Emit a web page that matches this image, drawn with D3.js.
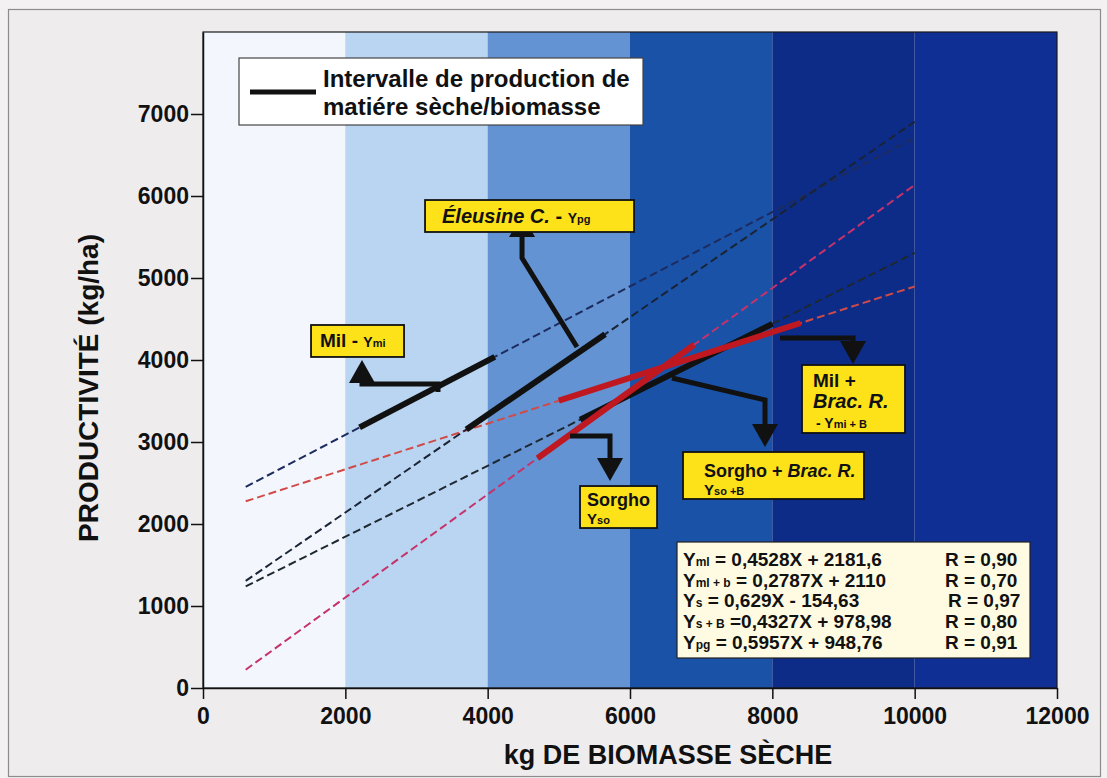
<!DOCTYPE html>
<html>
<head>
<meta charset="utf-8">
<script src="https://cdn.jsdelivr.net/npm/d3@7"></script>
<style>
  body { margin: 0; background: #f3f1f1; }
  svg text { font-family: "Liberation Sans", Arial, sans-serif; font-weight: bold; fill: #111; }
</style>
</head>
<body>
<svg width="1107" height="778"></svg>
<script>
// x bands (kg de biomasse) and their colours
const bandEdges = [0, 2000, 4000, 6000, 8000, 10000, 12000];
const bandColors = ["#f3f7fd", "#bad5f1", "#6393d3", "#1a52a8", "#0c2c88", "#102f94"];

const xTicks = [0, 2000, 4000, 6000, 8000, 10000, 12000];
const yTicks = [0, 1000, 2000, 3000, 4000, 5000, 6000, 7000];

// regression lines: [start], [end] in (kg, kg/ha)
const seriesNames = ["Ymi", "Ymi+b", "Ys", "Ys+B", "Ypg"];
const trendStart = [[600, 2453], [600, 2277], [600, 223], [600, 1239], [600, 1306]];
const trendEnd = [[10000, 6710], [10000, 4897], [10000, 6135], [10000, 5306], [10000, 6906]];
const trendColors = ["#1d2b5e", "#d04a48", "#c6336b", "#1e2830", "#1a2436"];

// production interval (solid part)
const intervalStart = [[2200, 3178], [5000, 3504], [4700, 2802], [5300, 3272], [3700, 3153]];
const intervalEnd = [[4100, 4038], [8400, 4451], [6900, 4186], [8000, 4441], [5650, 4314]];
const intervalColors = ["#111", "#c01820", "#c01820", "#111", "#111"];
const drawOrder = [0, 4, 3, 2, 1];

// equations box
const eqLeft = [["Y", "ml", " = 0,4528X + 2181,6"], ["Y", "ml + b", " = 0,2787X + 2110"], ["Y", "s", " = 0,629X - 154,63"], ["Y", "s + B", " =0,4327X + 978,98"], ["Y", "pg", " = 0,5957X + 948,76"]];
const eqRight = ["R = 0,90", "R = 0,70", "R = 0,97", "R = 0,80", "R = 0,91"];

// annotation boxes: [x0, y0, x1, y1] in data units, arrow path in data units (last = tip)
const labelBoxes = [
  [1518, 4427, 2825, 4037],
  [3120, 5951, 6057, 5561],
  [5298, 2463, 6380, 1951],
  [6745, 2878, 9288, 2305],
  [8417, 3939, 9864, 3110]
];
const labelArrows = [
  [[3302, 3610], [3302, 3707], [2234, 3707], [2234, 4000]],
  [[5255, 4158], [4483, 5244], [4483, 5780]],
  [[5157, 3073], [5719, 3073], [5719, 2524]],
  [[6590, 3780], [7897, 3512], [7897, 2939]],
  [[8108, 4268], [9134, 4268], [9134, 3951]]
];

const svg = d3.select("svg");
const x = d3.scaleLinear().domain([0, 12000]).range([203, 1057]);
const y = d3.scaleLinear().domain([0, 8000]).range([688, 32]);

// outer frame
svg.append("rect").attr("x", 8.5).attr("y", 9.5).attr("width", 1092).attr("height", 767)
  .attr("fill", "#efeced").attr("stroke", "#8c8c8c").attr("stroke-width", 1.2);

// bands
svg.append("g").selectAll("rect")
  .data(d3.range(bandColors.length))
  .join("rect")
  .attr("x", i => x(bandEdges[i]))
  .attr("width", i => x(bandEdges[i + 1]) - x(bandEdges[i]))
  .attr("y", y(8000))
  .attr("height", y(0) - y(8000))
  .attr("fill", i => bandColors[i]);

svg.append("rect").attr("x", x(0)).attr("y", y(8000))
  .attr("width", x(12000) - x(0)).attr("height", y(0) - y(8000))
  .attr("fill", "none").attr("stroke", "#1a1a1a").attr("stroke-width", 1.2);

// axes
const yAxis = svg.append("g").attr("transform", `translate(${x(0)},0)`)
  .call(d3.axisLeft(y).tickValues(yTicks).tickFormat(d3.format("d")).tickSize(12).tickSizeOuter(0).tickPadding(2));
const xAxis = svg.append("g").attr("transform", `translate(0,${y(0)})`)
  .call(d3.axisBottom(x).tickValues(xTicks).tickFormat(d3.format("d")).tickSize(11).tickSizeOuter(0).tickPadding(9));
[yAxis, xAxis].forEach(a => {
  a.select(".domain").attr("stroke", "#111").attr("stroke-width", 1.5);
  a.selectAll(".tick line").attr("stroke", "#111").attr("stroke-width", 1.5);
  a.selectAll(".tick text").attr("font-size", 23).attr("fill", "#111")
    .attr("font-family", "'Liberation Sans', Arial, sans-serif").attr("font-weight", "bold");
});

svg.append("text").attr("x", 668).attr("y", 764).attr("text-anchor", "middle")
  .attr("font-size", 27).text("kg DE BIOMASSE SÈCHE");
svg.append("text").attr("transform", "translate(98,388) rotate(-90)").attr("text-anchor", "middle")
  .attr("font-size", 28).text("PRODUCTIVITÉ (kg/ha)");

// dashed regression lines
svg.append("g").selectAll("line")
  .data(d3.range(seriesNames.length))
  .join("line")
  .attr("x1", i => x(trendStart[i][0])).attr("y1", i => y(trendStart[i][1]))
  .attr("x2", i => x(trendEnd[i][0])).attr("y2", i => y(trendEnd[i][1]))
  .attr("stroke", i => trendColors[i]).attr("stroke-width", 2)
  .attr("stroke-dasharray", "8,4");

// solid intervals
svg.append("g").selectAll("line")
  .data(drawOrder)
  .join("line")
  .attr("x1", i => x(intervalStart[i][0])).attr("y1", i => y(intervalStart[i][1]))
  .attr("x2", i => x(intervalEnd[i][0])).attr("y2", i => y(intervalEnd[i][1]))
  .attr("stroke", i => intervalColors[i]).attr("stroke-width", 6);

// arrows
const arrowG = svg.append("g");
labelArrows.forEach(path => {
  const pts = path.map(p => [x(p[0]), y(p[1])]);
  const tip = pts[pts.length - 1], prev = pts[pts.length - 2];
  const len = Math.hypot(tip[0] - prev[0], tip[1] - prev[1]);
  const d = [(tip[0] - prev[0]) / len, (tip[1] - prev[1]) / len];
  const base = [tip[0] - d[0] * 23, tip[1] - d[1] * 23];
  const n = [-d[1], d[0]];
  const linePts = pts.slice(0, -1).concat([base]);
  arrowG.append("path").attr("d", d3.line()(linePts))
    .attr("fill", "none").attr("stroke", "#111").attr("stroke-width", 5)
    .attr("stroke-linejoin", "miter");
  arrowG.append("path")
    .attr("d", d3.line()([tip, [base[0] + n[0] * 13, base[1] + n[1] * 13], [base[0] - n[0] * 13, base[1] - n[1] * 13]]) + "Z")
    .attr("fill", "#111");
});

// label boxes
const boxG = svg.append("g");
labelBoxes.forEach(b => {
  boxG.append("rect").attr("x", x(b[0])).attr("y", y(b[1]))
    .attr("width", x(b[2]) - x(b[0])).attr("height", y(b[3]) - y(b[1]))
    .attr("fill", "#fde21a").attr("stroke", "#111").attr("stroke-width", 1.8);
});

function addText(px, py, parts) {
  const t = svg.append("text").attr("x", px).attr("y", py);
  parts.forEach(p => {
    t.append("tspan").attr("font-size", p[1]).attr("font-style", p[2] ? "italic" : "normal").text(p[0]);
  });
  return t;
}
const bx = i => x(labelBoxes[i][0]), by = i => y(labelBoxes[i][1]);
addText(bx(0) + 9, by(0) + 22, [["Mil - ", 19], ["Y", 14], ["mi", 11]]);
addText(bx(1) + 17, by(1) + 23, [["Éleusine C.", 20, true], [" - ", 20], ["Y", 14], ["pg", 11]]);
addText(bx(2) + 7, by(2) + 20, [["Sorgho", 18]]);
addText(bx(2) + 7, by(2) + 38, [["Y", 15], ["so", 11]]);
addText(bx(3) + 21, by(3) + 25, [["Sorgho + ", 18], ["Brac. R.", 18, true]]);
addText(bx(3) + 21, by(3) + 43, [["Y", 15], ["so +B", 11]]);
addText(bx(4) + 11, by(4) + 22, [["Mil +", 19]]);
addText(bx(4) + 11, by(4) + 43, [["Brac. R.", 20, true]]);
addText(bx(4) + 14, by(4) + 63, [["- Y", 14], ["mi + B", 11]]);

// legend
svg.append("rect").attr("x", 239).attr("y", 58).attr("width", 404).attr("height", 67)
  .attr("fill", "#ffffff").attr("stroke", "#444").attr("stroke-width", 1.2);
svg.append("line").attr("x1", 250).attr("x2", 316).attr("y1", 92).attr("y2", 92)
  .attr("stroke", "#111").attr("stroke-width", 5);
addText(323, 87, [["Intervalle de production de", 24]]);
addText(323, 115, [["matiére sèche/biomasse", 24]]);

// equations
svg.append("rect").attr("x", 677).attr("y", 542).attr("width", 353).attr("height", 116)
  .attr("fill", "#fffbe2").attr("stroke", "#222").attr("stroke-width", 1.2);
eqLeft.forEach((e, i) => {
  addText(683, 566 + i * 20.7, [[e[0], 19], [e[1], 12], [e[2], 19]]);
  addText(i === 2 ? 948 : 945, 566 + i * 20.7, [[eqRight[i], 19]]);
});
</script>
</body>
</html>
